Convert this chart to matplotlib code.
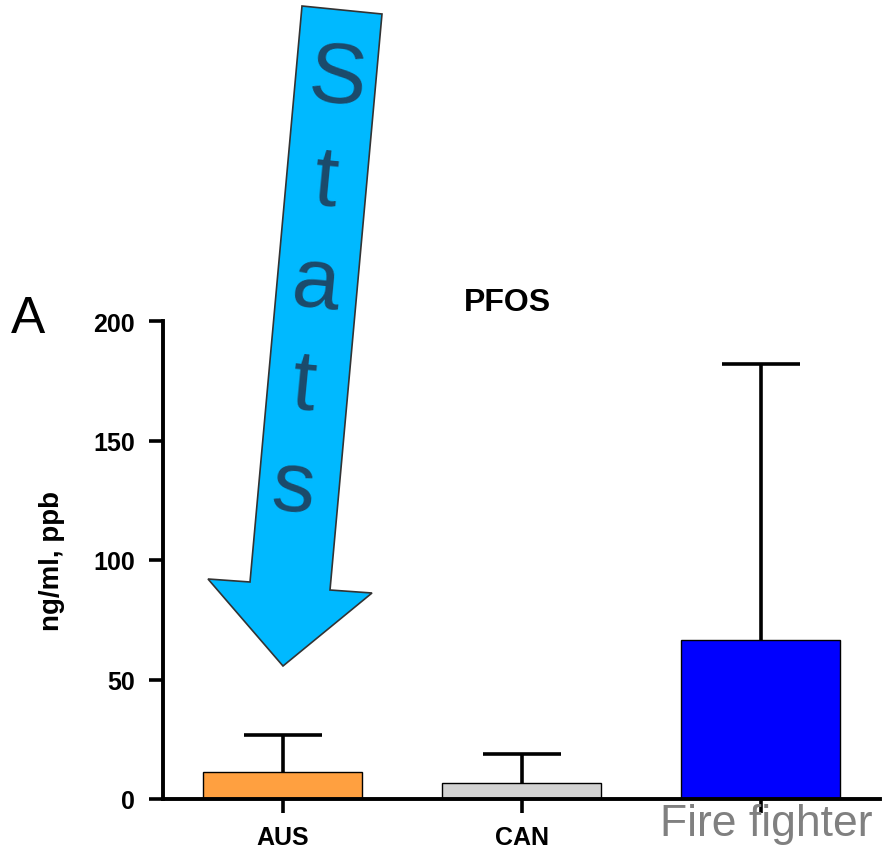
import matplotlib
matplotlib.use("Agg")
import matplotlib.pyplot as plt
from matplotlib.patches import Polygon

# PFOS serum levels by group
groups = ["AUS", "CAN", "Fire fighter"]
means = [11.3, 6.7, 66.5]
sds = [15.5, 12.1, 115.5]
bar_colors = ["#FFA040", "#D3D3D3", "#0000FF"]
y_ticks = [0, 50, 100, 150, 200]

W, H = 883, 854


def fig_xy(px, py):
    # pixel position (origin top-left) -> figure fraction
    return px / W, 1 - py / H


plt.rcParams["font.family"] = ["Liberation Sans", "DejaVu Sans"]

fig = plt.figure(figsize=(W / 100, H / 100), dpi=100)
ax = fig.add_axes([163 / W, 54 / H, 717 / W, 478 / H])

x = list(range(len(groups)))
ax.bar(x, means, width=0.665, color=bar_colors, edgecolor="black", linewidth=1.0, zorder=2)
# upper error bars only
_, caps, _ = ax.errorbar(x, means, yerr=[[0] * len(sds), sds], fmt="none", ecolor="black",
                         elinewidth=2.6, capsize=28, capthick=2.6, zorder=1)
caps[0].set_visible(False)

ax.set_xlim(-0.5, 2.5)
ax.set_ylim(0, 200)
ax.set_yticks(y_ticks)
ax.set_xticks(x)
ax.set_xticklabels(["AUS", "CAN", ""])
for lbl in ax.get_yticklabels() + ax.get_xticklabels():
    lbl.set_fontweight("bold")
ax.tick_params(axis="y", labelsize=18, width=2.6, length=10, pad=10)
ax.tick_params(axis="x", labelsize=18, width=2.6, length=10, pad=9)
for side in ["top", "right"]:
    ax.spines[side].set_visible(False)
for side in ["left", "bottom"]:
    ax.spines[side].set_linewidth(2.8)

fig.text(*fig_xy(52, 561), "ng/ml, ppb", fontsize=20, fontweight="bold",
         rotation=90, ha="center", va="center")
fig.text(*fig_xy(507, 311), "PFOS", fontsize=23, fontweight="bold",
         ha="center", va="baseline")
fig.text(*fig_xy(11, 333), "A", fontsize=37, ha="left", va="baseline")

# third group label in a lighter, larger style
fig.text(*fig_xy(766, 836), groups[2], fontsize=32, color="#808080",
         ha="center", va="baseline")

# pointer arrow with its vertical caption
arrow_pts = [(302, 7), (382, 15), (330, 591), (372, 594), (283, 667),
             (208, 580), (250, 583)]
arrow = Polygon([fig_xy(px, py) for px, py in arrow_pts], closed=True,
                transform=fig.transFigure, facecolor="#00B9FF",
                edgecolor="#333333", linewidth=1.2, zorder=5)
fig.patches.append(arrow)

for i, ch in enumerate("Stats"):
    px = 335 - 11 * i
    py = 103 + 102 * i
    fig.text(*fig_xy(px, py), ch, fontsize=62, color="#1C4A6A",
             ha="center", va="baseline", rotation=-5.5,
             rotation_mode="anchor", zorder=6)

fig.savefig("out.png", dpi=100)
